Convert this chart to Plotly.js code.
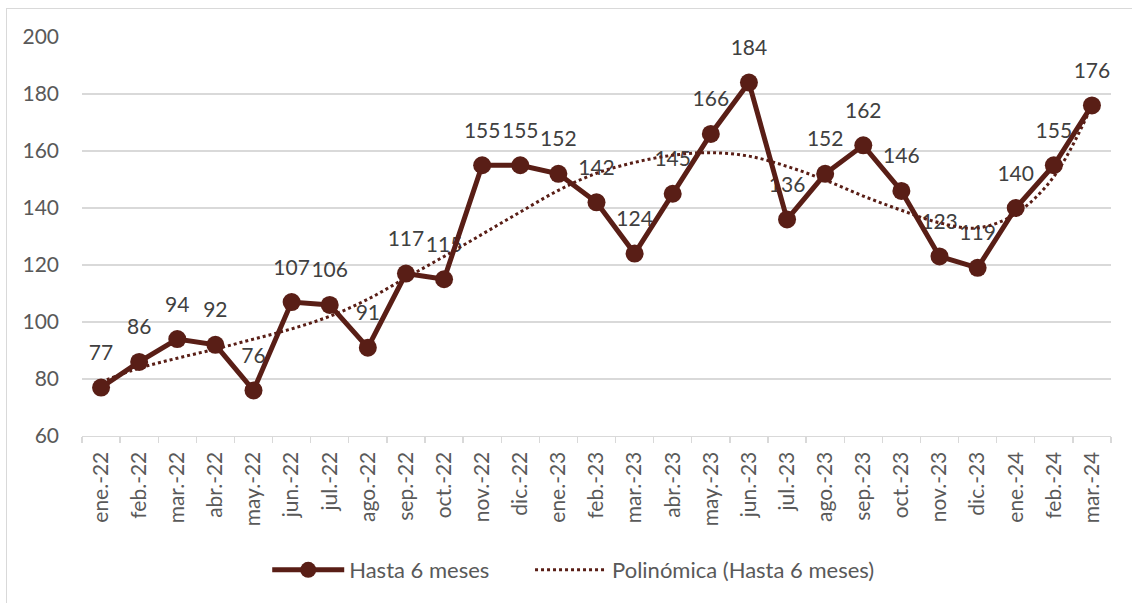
<!DOCTYPE html>
<html>
<head>
<meta charset="utf-8">
<script src="https://cdn.plot.ly/plotly-3.0.1.min.js"></script>
<style>
  html, body { margin: 0; padding: 0; background: #ffffff; }
  #wrap { position: relative; width: 1132px; height: 603px; }
  #chart { position: absolute; left: 0; top: 0; width: 1132px; height: 603px; }
  #frame { position: absolute; left: 6px; top: 8px; right: 0; bottom: 0;
           border-left: 1px solid #d9d9d9; border-top: 1px solid #d9d9d9; pointer-events: none; }
</style>
</head>
<body>
<div id="wrap">
  <div id="chart"></div>
  <div id="frame"></div>
</div>
<script>
const months = ['ene.-22','feb.-22','mar.-22','abr.-22','may.-22','jun.-22','jul.-22','ago.-22','sep.-22','oct.-22','nov.-22','dic.-22',
                'ene.-23','feb.-23','mar.-23','abr.-23','may.-23','jun.-23','jul.-23','ago.-23','sep.-23','oct.-23','nov.-23','dic.-23',
                'ene.-24','feb.-24','mar.-24'];
const values = [77,86,94,92,76,107,106,91,117,115,155,155,152,142,124,145,166,184,136,152,162,146,123,119,140,155,176];
// Polynomial trendline
const trend = [79,83.8,87.3,90.5,94,97.6,102,108,115.5,123,130.8,138.6,146.2,152.2,156,158.5,159.4,158.2,154.6,149.8,144.2,139.2,134.8,133,138,151,176];
const seriesName = 'Hasta 6 meses';
const trendName = 'Polinómica (Hasta 6 meses)';
const yTicks = [60,80,100,120,140,160,180,200];

const maroon = '#591e16';
const fontFam = 'Lato, "Open Sans", sans-serif';

const traces = [
  {
    x: months, y: values, text: values.map(String),
    mode: 'markers+text', type: 'scatter',
    marker: { size: 34, opacity: 0 },
    textposition: 'top center',
    textfont: { family: fontFam, size: 21, color: '#404040' },
    showlegend: false, hoverinfo: 'skip', cliponaxis: false
  },
  {
    x: months, y: trend, name: trendName, legend: 'legend2',
    mode: 'lines', type: 'scatter',
    line: { color: maroon, width: 3, dash: 'dot', shape: 'spline', smoothing: 1 },
    cliponaxis: false
  },
  {
    x: months, y: values, name: seriesName, legend: 'legend',
    mode: 'lines+markers', type: 'scatter',
    line: { color: maroon, width: 5 },
    marker: { color: maroon, size: 18 },
    cliponaxis: false
  }
];

const legendFont = { family: fontFam, size: 22, color: '#595959' };

const layout = {
  width: 1132, height: 603,
  paper_bgcolor: '#ffffff', plot_bgcolor: '#ffffff',
  margin: { l: 82, r: 21, t: 37, b: 167 },
  font: { family: fontFam, size: 21, color: '#595959' },
  showlegend: true,
  legend: {
    orientation: 'h', x: 0.18, xanchor: 'left', y: -0.336, yanchor: 'middle',
    font: legendFont, itemwidth: 72
  },
  legend2: {
    orientation: 'h', x: 0.4354, xanchor: 'left', y: -0.336, yanchor: 'middle',
    font: legendFont, itemwidth: 72
  },
  xaxis: {
    type: 'category', categoryorder: 'array', categoryarray: months,
    range: [-0.5, months.length - 0.5], autorange: false,
    tickangle: -90, tickson: 'boundaries', ticks: 'outside', ticklen: 6,
    tickcolor: '#d9d9d9', tickwidth: 1.3,
    showline: true, linecolor: '#d9d9d9', linewidth: 1.3,
    showgrid: false, zeroline: false, ticklabelstandoff: 6,
    tickfont: { family: fontFam, size: 21, color: '#595959' }
  },
  yaxis: {
    range: [60, 200], autorange: false, tickmode: 'array', tickvals: yTicks, ticktext: yTicks.map(String),
    showgrid: true, gridcolor: '#d9d9d9', gridwidth: 1.3,
    zeroline: false, showline: false, ticks: '', ticklabelstandoff: 22,
    tickfont: { family: fontFam, size: 21, color: '#595959' }
  }
};

Plotly.newPlot('chart', traces, layout, { staticPlot: true, displayModeBar: false });
</script>
</body>
</html>
